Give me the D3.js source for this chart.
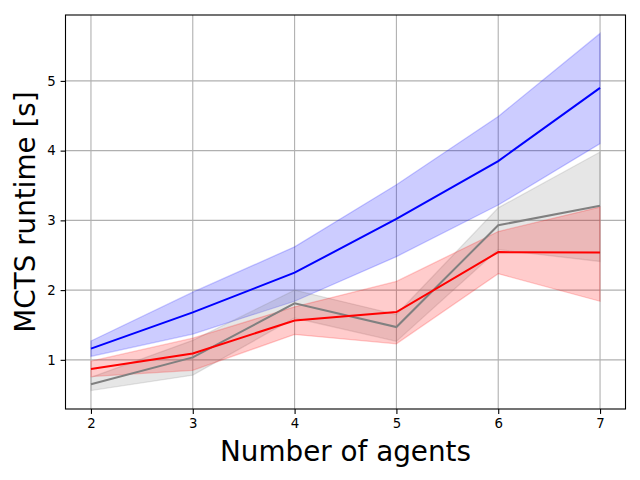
<!DOCTYPE html>
<html>
<head>
<meta charset="utf-8">
<script src="https://cdn.jsdelivr.net/npm/d3@7"></script>
<style>
  body { margin: 0; background: #fff; }
  text { font-family: "DejaVu Sans", sans-serif; }
</style>
</head>
<body>
<div id="chart"></div>
<script>
const width = 640;
const height = 480;

// number of agents
const agents = [2, 3, 4, 5, 6, 7];

// blue series
const blueMean = [1.16, 1.68, 2.25, 3.02, 3.85, 4.90];
const blueLow  = [1.05, 1.37, 1.84, 2.48, 3.22, 4.10];
const blueHigh = [1.27, 1.97, 2.62, 3.51, 4.49, 5.68];

// gray series
const grayMean = [0.65, 1.035, 1.81, 1.47, 2.93, 3.21];
const grayLow  = [0.56, 0.78, 1.60, 1.265, 2.58, 2.41];
const grayHigh = [0.75, 1.28, 2.00, 1.65, 3.18, 3.98];

// red series
const redMean = [0.87, 1.09, 1.565, 1.685, 2.545, 2.54];
const redLow  = [0.76, 0.85, 1.365, 1.23, 2.235, 1.84];
const redHigh = [0.98, 1.31, 1.76, 2.125, 2.84, 3.19];

const xTicks = [2, 3, 4, 5, 6, 7];
const yTicks = [1, 2, 3, 4, 5];

const margin = {top: 15, right: 14.5, bottom: 71, left: 65.5};
const iw = width - margin.left - margin.right;
const ih = height - margin.top - margin.bottom;

const svg = d3.select("#chart").append("svg")
    .attr("width", width)
    .attr("height", height);

const x = d3.scaleLinear().domain([1.75, 7.25]).range([0, iw]);
const y = d3.scaleLinear().domain([0.295, 5.945]).range([ih, 0]);

const g = svg.append("g")
    .attr("transform", `translate(${margin.left},${margin.top})`);

// grid
g.append("g").selectAll("line")
  .data(xTicks)
  .enter().append("line")
  .attr("x1", d => x(d)).attr("x2", d => x(d))
  .attr("y1", 0).attr("y2", ih)
  .style("stroke", "#b0b0b0")
  .style("stroke-width", 1.1);

g.append("g").selectAll("line")
  .data(yTicks)
  .enter().append("line")
  .attr("x1", 0).attr("x2", iw)
  .attr("y1", d => y(d)).attr("y2", d => y(d))
  .style("stroke", "#b0b0b0")
  .style("stroke-width", 1.1);

const series = [
  {color: "#0000ff", mean: blueMean, low: blueLow, high: blueHigh},
  {color: "#808080", mean: grayMean, low: grayLow, high: grayHigh},
  {color: "#ff0000", mean: redMean, low: redLow, high: redHigh}
];

const area = d3.area()
  .x(d => x(d.x))
  .y0(d => y(d.lo))
  .y1(d => y(d.hi));

const line = d3.line()
  .x(d => x(d.x))
  .y(d => y(d.v));

series.forEach(s => {
  const pts = agents.map((a, i) => ({x: a, v: s.mean[i], lo: s.low[i], hi: s.high[i]}));
  g.append("path")
    .datum(pts)
    .attr("d", area)
    .style("fill", s.color)
    .style("fill-opacity", 0.2)
    .style("stroke", s.color)
    .style("stroke-opacity", 0.2)
    .style("stroke-width", 1.3);
});

series.forEach(s => {
  const pts = agents.map((a, i) => ({x: a, v: s.mean[i]}));
  g.append("path")
    .datum(pts)
    .attr("d", line)
    .style("fill", "none")
    .style("stroke", s.color)
    .style("stroke-width", 2);
});

// axes
const xAxis = g.append("g")
  .attr("transform", `translate(0,${ih})`)
  .call(d3.axisBottom(x).tickValues(xTicks).tickFormat(d3.format("d")).tickSize(4.9).tickPadding(4.9));

const yAxis = g.append("g")
  .call(d3.axisLeft(y).tickValues(yTicks).tickFormat(d3.format("d")).tickSize(4.9).tickPadding(4.9));

[xAxis, yAxis].forEach(a => {
  a.select(".domain").remove();
  a.selectAll("line").style("stroke", "#000").style("stroke-width", 1.1);
  a.selectAll("text")
    .style("font-family", "DejaVu Sans, sans-serif")
    .style("font-size", "13.3px")
    .style("fill", "#000");
});

// frame
g.append("rect")
  .attr("width", iw).attr("height", ih)
  .style("fill", "none")
  .style("stroke", "#000")
  .style("stroke-width", 1.1);

// labels
svg.append("text")
  .attr("x", margin.left + iw / 2)
  .attr("y", 461)
  .attr("text-anchor", "middle")
  .style("font-size", "27.8px")
  .text("Number of agents");

svg.append("text")
  .attr("transform", `translate(35,${margin.top + ih / 2}) rotate(-90)`)
  .attr("text-anchor", "middle")
  .style("font-size", "27.8px")
  .text("MCTS runtime [s]");
</script>
</body>
</html>
